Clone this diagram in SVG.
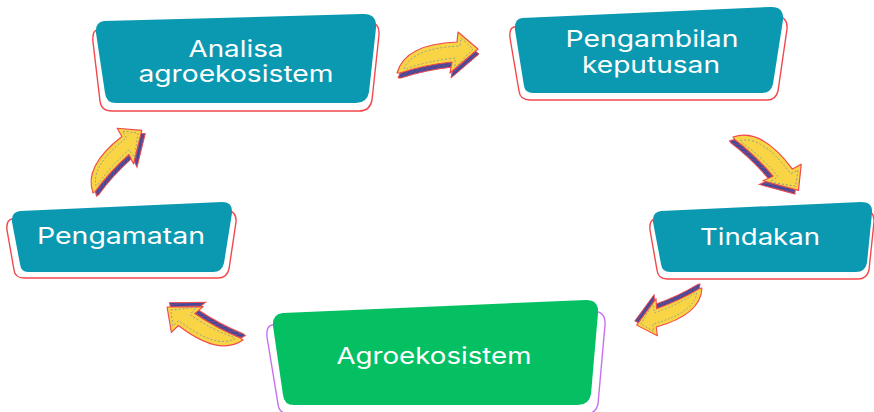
<svg xmlns="http://www.w3.org/2000/svg" width="874" height="412" viewBox="0 0 874 412">
<defs>
<style>
.teal{fill:#0a99b1}
.green{fill:#05c062}
.ored{fill:#fff;stroke:#f2474c;stroke-width:1.4}
.opur{fill:#fff;stroke:#c76ff0;stroke-width:1.4}
.lbl{font-family:Inter,"Open Sans","DejaVu Sans",sans-serif;font-size:23px;fill:#ffffff;text-anchor:middle}
.sh{fill:url(#hatch);stroke:#ef4a4f;stroke-width:1}
.ar{fill:#f9d444;stroke:#ef4a4f;stroke-width:1.2;stroke-linejoin:round}
.dash{fill:none;stroke:#8a9a9a;stroke-width:0.9;stroke-dasharray:2 2}
</style>
<pattern id="hatch" width="3" height="3" patternUnits="userSpaceOnUse" patternTransform="rotate(45)">
<rect width="3" height="3" fill="#3c4a9e"/>
<line x1="0" y1="0" x2="0" y2="3" stroke="#d9475a" stroke-width="0.8"/>
</pattern>
<g id="arrow">
<path class="sh" d="M1,5 Q9,-23 61,-25 L62,-35 L82,-19 L54,5 L56,-6 Q28,-3 4,5 Z"/>
<path class="ar" d="M0,0 Q8,-29 60,-31 L61,-41 L81,-24 L53,0 L55,-11 Q27,-8 3,0 Z"/>
<path class="dash" d="M7,-4 Q15,-25 63,-27 L64,-35 L76,-24 L58,-5 L58,-15 Q30,-12 9,-4"/>
</g>
</defs>

<g id="connectors">
<use href="#arrow" transform="translate(397,73)"/>
<use href="#arrow" transform="translate(733,137) rotate(55.7)"/>
<use href="#arrow" transform="translate(702,288) rotate(166.9) scale(0.89)"/>
<use href="#arrow" transform="translate(243,340) rotate(-140) scale(0.98)"/>
<use href="#arrow" transform="translate(93,193) rotate(-35.6) scale(0.94)"/>
</g>

<g id="node-analisa">
<path class="ored" d="M97,30 L368,22 Q380,22 379,35 L372,100 Q370,111 359,111 L112,111 Q101,111 100,101 L93,42 Q92,31 97,30 Z"/>
<path class="teal" d="M104,21 L362,14 Q377,13 376,28 L369,92 Q367,103 356,103 L116,103 Q106,103 105,93 L96,33 Q95,22 104,21 Z"/>
<text class="lbl" x="236" y="57" textLength="95" lengthAdjust="spacingAndGlyphs">Analisa</text>
<text class="lbl" x="236" y="82" textLength="195" lengthAdjust="spacingAndGlyphs">agroekosistem</text>
</g>

<g id="node-pengambilan">
<path class="ored" d="M514,27 L775,16 Q788,16 787,29 L778,91 Q776,100 767,100 L530,100 Q520,100 519,91 L510,38 Q509,28 514,27 Z"/>
<path class="teal" d="M522,18 L770,7 Q784,6 783,20 L773,84 Q771,93 762,93 L533,93 Q525,93 524,86 L515,30 Q514,19 522,18 Z"/>
<text class="lbl" x="652" y="47" textLength="173" lengthAdjust="spacingAndGlyphs">Pengambilan</text>
<text class="lbl" x="651" y="73" textLength="138" lengthAdjust="spacingAndGlyphs">keputusan</text>
</g>

<g id="node-tindakan">
<path class="ored" d="M655,219 L862,210 Q875,210 874,222 L869,270 Q867,279 858,279 L667,279 Q658,279 657,270 L650,230 Q649,220 655,219 Z"/>
<path class="teal" d="M661,211 L861,202 Q873,202 872,213 L867,263 Q865,272 856,272 L670,272 Q662,272 661,264 L653,222 Q652,212 661,211 Z"/>
<text class="lbl" x="760" y="245" textLength="120" lengthAdjust="spacingAndGlyphs">Tindakan</text>
</g>

<g id="node-agroekosistem">
<path class="opur" d="M272,325 L592,311 Q606,311 605,325 L598,404 Q596,414 585,414 L290,414 Q279,414 278,404 L267,337 Q266,326 272,325 Z"/>
<path class="green" d="M283,313 L586,300 Q599,300 598,313 L591,394 Q589,405 578,405 L294,405 Q284,405 283,395 L273,326 Q272,314 283,313 Z"/>
<text class="lbl" x="434" y="364" textLength="195" lengthAdjust="spacingAndGlyphs">Agroekosistem</text>
</g>

<g id="node-pengamatan">
<path class="ored" d="M12,219 L224,210 Q237,210 236,222 L229,269 Q227,278 218,278 L24,278 Q15,278 14,270 L7,230 Q6,220 12,219 Z"/>
<path class="teal" d="M20,211 L222,202 Q233,202 232,213 L224,263 Q222,272 213,272 L28,272 Q21,272 20,264 L12,222 Q11,212 20,211 Z"/>
<text class="lbl" x="121" y="244" textLength="168" lengthAdjust="spacingAndGlyphs">Pengamatan</text>
</g>
</svg>
